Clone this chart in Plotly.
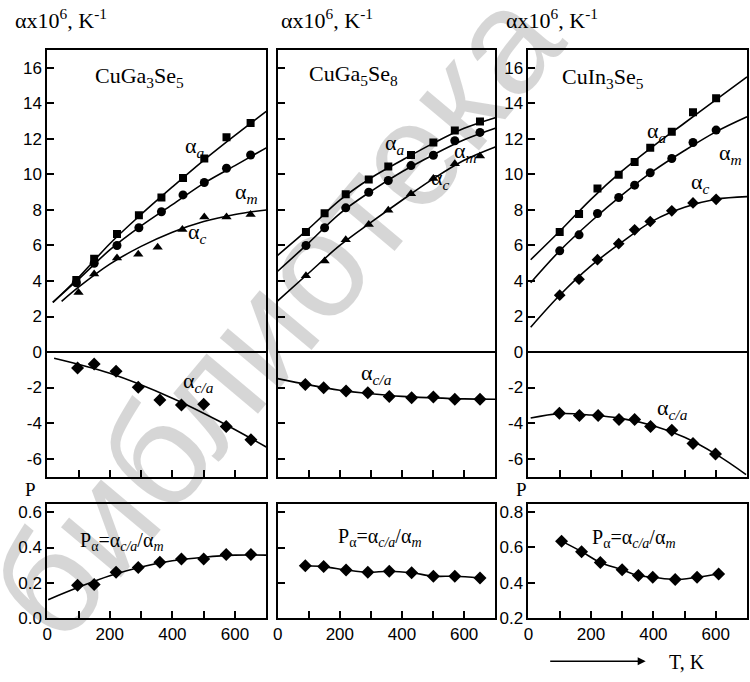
import plotly.graph_objects as go

W, H = 750, 682

# ---------------- data ----------------
# CuGa3Se5
L_T = [93, 150, 223, 293, 365, 434, 502, 573, 650]
L_a = [4.05, 5.25, 6.65, 7.7, 8.7, 9.8, 10.9, 12.1, 12.9]
L_m = [3.9, 5.0, 6.0, 7.0, 7.9, 8.85, 9.55, 10.35, 11.1]
L_cT = [100, 150, 223, 291, 353, 432, 502, 573, 650]
L_c = [3.35, 4.4, 5.3, 5.5, 5.9, 6.9, 7.6, 7.6, 7.75]
L_caT = [97, 150, 220, 291, 360, 429, 500, 572, 651]
L_ca = [-0.9, -0.68, -1.09, -1.98, -2.7, -2.98, -2.94, -4.2, -4.94]
L_P = [0.186, 0.19, 0.26, 0.287, 0.316, 0.335, 0.335, 0.361, 0.361]
# fitted curves (knots)
L_a_fT = [18, 100, 200, 300, 400, 500, 600, 700]
L_a_f = [2.8, 4.2, 6.1, 7.75, 9.3, 10.8, 12.2, 13.55]
L_m_fT = [18, 100, 200, 300, 400, 500, 600, 700]
L_m_f = [2.8, 4.1, 5.75, 7.1, 8.3, 9.5, 10.5, 11.5]
L_c_fT = [46, 100, 200, 300, 400, 500, 600, 700]
L_c_f = [2.85, 3.65, 4.95, 5.95, 6.75, 7.35, 7.75, 8.0]
L_ca_fT = [22, 200, 400, 550, 700]
L_ca_f = [-0.35, -1.2, -2.6, -3.9, -5.35]
L_P_fT = [3, 100, 200, 300, 400, 500, 600, 700]
L_P_f = [0.105, 0.175, 0.24, 0.29, 0.325, 0.345, 0.357, 0.357]

# CuGa5Se8
M_T = [91, 151, 219, 293, 356, 429, 501, 570, 651]
M_a = [6.76, 7.81, 8.88, 9.71, 10.45, 11.1, 11.8, 12.48, 12.98]
M_m = [6.0, 7.0, 8.12, 9.0, 9.66, 10.5, 11.08, 11.9, 12.37]
M_c = [4.3, 5.12, 6.33, 7.18, 7.98, 8.92, 9.77, 10.6, 11.04]
M_caT = [89, 148, 220, 290, 359, 431, 501, 570, 651]
M_ca = [-1.83, -2.01, -2.2, -2.29, -2.51, -2.57, -2.53, -2.66, -2.66]
M_P = [0.297, 0.292, 0.273, 0.26, 0.266, 0.257, 0.238, 0.237, 0.227]
M_fT = [0, 100, 200, 300, 400, 500, 600, 700]
M_a_f = [5.45, 6.95, 8.55, 9.8, 10.8, 11.75, 12.6, 13.2]
M_m_f = [4.55, 6.15, 7.8, 9.05, 10.15, 11.1, 11.95, 12.6]
M_c_f = [2.88, 4.45, 6.0, 7.3, 8.55, 9.75, 10.8, 11.55]
M_ca_f = [-1.5, -1.85, -2.15, -2.35, -2.5, -2.58, -2.64, -2.66]

# CuIn3Se5
R_T = [100, 162, 221, 289, 340, 390, 459, 527, 601]
R_a = [6.76, 7.77, 9.21, 9.99, 10.7, 11.5, 12.4, 13.5, 14.3]
R_m = [5.7, 6.6, 7.8, 8.7, 9.4, 10.1, 10.9, 11.8, 12.5]
R_c = [3.2, 4.1, 5.2, 6.1, 6.88, 7.35, 7.95, 8.4, 8.6]
R_caT = [99, 163, 223, 290, 340, 391, 459, 527, 599]
R_ca = [-3.45, -3.58, -3.58, -3.8, -3.8, -4.19, -4.41, -5.15, -5.74]
R_PT = [106, 170, 230, 300, 352, 398, 470, 540, 609]
R_P = [0.634, 0.575, 0.514, 0.473, 0.44, 0.431, 0.418, 0.431, 0.449]
R_fT = [7, 100, 200, 300, 400, 500, 600, 700]
R_a_f = [5.2, 6.8, 8.6, 10.2, 11.6, 12.9, 14.2, 15.5]
R_m_f = [3.9, 5.7, 7.35, 8.85, 10.2, 11.35, 12.4, 13.25]
R_c_f = [1.4, 3.2, 4.85, 6.2, 7.4, 8.15, 8.6, 8.75]
R_ca_fT = [7, 100, 200, 300, 400, 500, 600, 697]
R_ca_f = [-3.72, -3.47, -3.55, -3.75, -4.15, -4.8, -5.75, -6.9]

top_ticks = [-6, -4, -2, 0, 2, 4, 6, 8, 10, 12, 14, 16]
top_ticktext = ["-6", "-4", "-2", "0", "2", "4", "6", "8", "10", "12", "14", "16"]
x_tickvals = [0, 100, 200, 300, 400, 500, 600]
x_ticktext = ["0", "", "200", "", "400", "", "600"]

# ---------------- figure ----------------
fig = go.Figure()
LW = 1.6


def curve(x, y, ax, ay):
    fig.add_trace(go.Scatter(x=x, y=y, mode="lines", xaxis=ax, yaxis=ay,
                             line=dict(color="black", width=LW, shape="spline"),
                             showlegend=False, hoverinfo="skip"))


def pts(x, y, ax, ay, sym, size=8, lines=False):
    fig.add_trace(go.Scatter(x=x, y=y, mode="lines+markers" if lines else "markers",
                             xaxis=ax, yaxis=ay,
                             line=dict(color="black", width=LW, shape="spline"),
                             marker=dict(symbol=sym, size=size, color="black"),
                             showlegend=False))


# left column
curve(L_a_fT, L_a_f, "x", "y"); curve(L_m_fT, L_m_f, "x", "y"); curve(L_c_fT, L_c_f, "x", "y")
pts(L_T, L_a, "x", "y", "square", 8)
pts(L_T, L_m, "x", "y", "circle", 9)
pts(L_cT, L_c, "x", "y", "triangle-up", 9)
curve(L_ca_fT, L_ca_f, "x", "y")
pts(L_caT, L_ca, "x", "y", "diamond", 10)
curve(L_P_fT, L_P_f, "x4", "y4")
pts(L_caT, L_P, "x4", "y4", "diamond", 10)

# middle column
curve(M_fT, M_a_f, "x2", "y2"); curve(M_fT, M_m_f, "x2", "y2"); curve(M_fT, M_c_f, "x2", "y2")
pts(M_T, M_a, "x2", "y2", "square", 8)
pts(M_T, M_m, "x2", "y2", "circle", 9)
pts(M_T, M_c, "x2", "y2", "triangle-up", 9)
curve(M_fT, M_ca_f, "x2", "y2")
pts(M_caT, M_ca, "x2", "y2", "diamond", 10)
pts(M_caT, M_P, "x5", "y5", "diamond", 10, lines=True)

# right column
curve(R_fT, R_a_f, "x3", "y3"); curve(R_fT, R_m_f, "x3", "y3"); curve(R_fT, R_c_f, "x3", "y3")
pts(R_T, R_a, "x3", "y3", "square", 8)
pts(R_T, R_m, "x3", "y3", "circle", 9)
pts(R_T, R_c, "x3", "y3", "diamond", 9)
curve(R_ca_fT, R_ca_f, "x3", "y3")
pts(R_caT, R_ca, "x3", "y3", "diamond", 10)
pts(R_PT, R_P, "x6", "y6", "diamond", 10, lines=True)

tickfont = dict(family="Liberation Sans, Arial", size=17, color="black")
base = dict(showline=True, linecolor="black", linewidth=1.8, mirror=True,
            ticks="inside", ticklen=7, tickwidth=1.8, tickcolor="black",
            showgrid=False, zeroline=False, tickfont=tickfont, fixedrange=True)


def px(x):
    return x / W


def py(y):
    return 1 - y / H


cols = [(42.5, 263), (274.5, 493.5), (527, 747)]
top_dom = [py(484), py(50)]
bot_dom = [py(627.3), py(511.5)]
lay = {}
for i, (a, b) in enumerate(cols):
    n = i + 1
    nb = i + 4
    sx = "" if n == 1 else str(n)
    lay["xaxis" + sx] = dict(base, domain=[px(a), px(b)], range=[0, 700], anchor="y" + sx,
                            tickvals=[100, 200, 300, 400, 500, 600], showticklabels=False)
    lay["yaxis" + sx] = dict(base, domain=top_dom, range=[-7.05, 17.0], anchor="x" + sx,
                            tickvals=top_ticks, ticktext=top_ticktext,
                            showticklabels=(i != 1))
    lay["xaxis" + str(nb)] = dict(base, domain=[px(a), px(b)], range=[0, 700], anchor="y" + str(nb),
                                 tickvals=x_tickvals, ticktext=x_ticktext)
    if i == 2:
        lay["yaxis" + str(nb)] = dict(base, domain=bot_dom, range=[0.2, 0.842], anchor="x" + str(nb),
                                     tickvals=[0.2, 0.4, 0.6, 0.8], ticktext=["0.2", "0.4", "0.6", "0.8"])
    else:
        lay["yaxis" + str(nb)] = dict(base, domain=bot_dom, range=[0, 0.645], anchor="x" + str(nb),
                                     tickvals=[0, 0.2, 0.4, 0.6], ticktext=["0.0", "0.2", "0.4", "0.6"],
                                     showticklabels=(i == 0))

shapes = []
for sx in ["", "2", "3"]:
    shapes.append(dict(type="line", xref="x" + sx + " domain" if sx else "x domain",
                       yref="y" + sx, x0=0, x1=1, y0=0, y1=0,
                       line=dict(color="black", width=1.8)))

serif = "Liberation Serif, Times New Roman"
ann = []

# faint watermark of the scanned source (semi-transparent so black lines stay black)
ann.append(dict(x=px(272), y=py(318), xref="paper", yref="paper", text="библиотека",
                showarrow=False, textangle=-50, xanchor="center", yanchor="middle",
                font=dict(family="Liberation Sans, Arial", size=148, color="rgba(0,0,0,0.16)")))


def text(x, y, s, size=17, xanchor="center"):
    ann.append(dict(x=px(x), y=py(y), xref="paper", yref="paper", text=s, showarrow=False,
                    xanchor=xanchor, yanchor="middle",
                    font=dict(family=serif, size=size, color="black")))


ylab = "αx10<sup>6</sup>, K<sup>-1</sup>"
text(8, 18, ylab, 22, "left")
text(276, 18, ylab, 22, "left")
text(502, 18, ylab, 22, "left")

text(89, 77, "CuGa<sub>3</sub>Se<sub>5</sub>", 22, "left")
text(304, 75, "CuGa<sub>5</sub>Se<sub>8</sub>", 22, "left")
text(559, 78, "CuIn<sub>3</sub>Se<sub>5</sub>", 22, "left")

text(179, 148, "α<sub><i>a</i></sub>", 22, "left")
text(230, 195, "α<sub><i>m</i></sub>", 22, "left")
text(182, 236, "α<sub><i>c</i></sub>", 22, "left")
text(381, 145, "α<sub><i>a</i></sub>", 22, "left")
text(450, 153, "α<sub><i>m</i></sub>", 22, "left")
text(427, 181, "α<sub><i>c</i></sub>", 22, "left")
text(644, 133, "α<sub><i>a</i></sub>", 22, "left")
text(717, 156, "α<sub><i>m</i></sub>", 22, "left")
text(689, 185, "α<sub><i>c</i></sub>", 22, "left")

text(177, 387, "α<sub><i>c/a</i></sub>", 22, "left")
text(356, 379, "α<sub><i>c/a</i></sub>", 22, "left")
text(654, 415, "α<sub><i>c/a</i></sub>", 22, "left")

pform = "P<sub>α</sub>=α<sub><i>c/a</i></sub>/α<sub><i>m</i></sub>"
text(73, 549, pform, 20, "left")
text(333, 545, pform, 20, "left")
text(589, 546, pform, 20, "left")

text(18, 497, "P", 19, "left")
text(512, 497, "P", 19, "left")

text(666, 672, "T, K", 20, "left")
ann.append(dict(x=px(645), y=py(671), xref="paper", yref="paper", ax=-97, ay=0,
                text="", showarrow=True, arrowhead=2, arrowsize=1, arrowwidth=1.6,
                arrowcolor="black"))

fig.update_layout(width=W, height=H, margin=dict(l=0, r=0, t=0, b=0),
                  paper_bgcolor="white", plot_bgcolor="white",
                  shapes=shapes, annotations=ann, showlegend=False, **lay)

fig.write_html("out.html")
